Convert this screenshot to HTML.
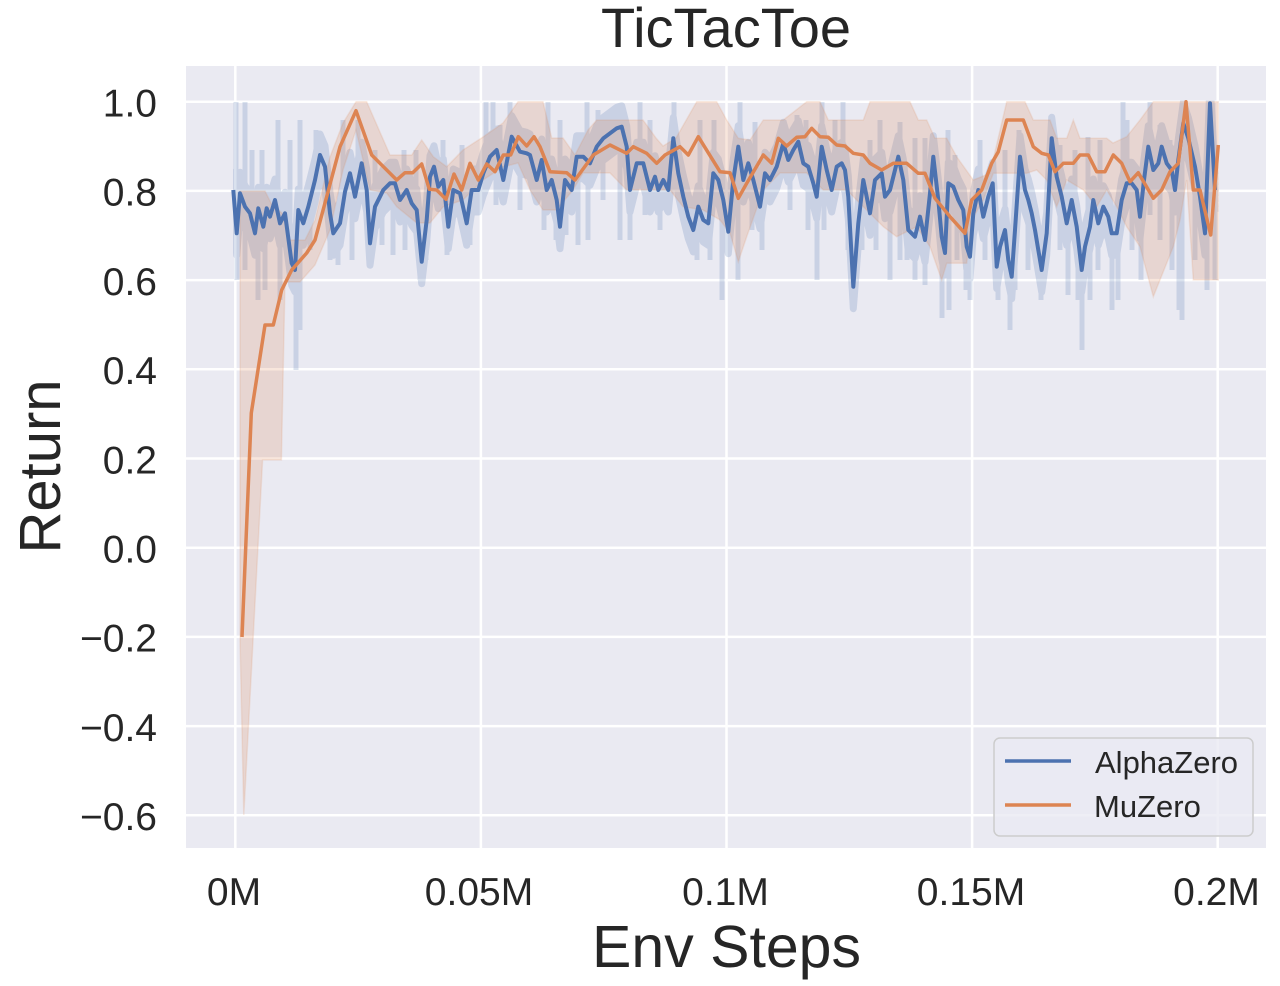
<!DOCTYPE html>
<html><head><meta charset="utf-8"><style>
html,body{margin:0;padding:0;background:#fff;}
svg{display:block;}
text{font-family:"Liberation Sans",Arial,sans-serif;fill:#262626;}
</style></head><body>
<svg width="1280" height="986" viewBox="0 0 1280 986" xmlns="http://www.w3.org/2000/svg">
<defs>
<clipPath id="bc"><rect x="233" y="100.5" width="985.5" height="740"/></clipPath>
<polyline id="bl" fill="none" stroke-linejoin="round" points="233.3,190 236.7,233.3 240,193.3 245,206.7 250,213.3 255,233.3 258.3,208.3 263.3,226.7 266.7,208.3 270,216.7 275,200 280,223.3 285,213.3 291.7,263.3 295,270 298.3,210 303.3,223.3 308.3,206.7 315,180 320,155 325,166.7 330,213.3 333.3,233.3 340,223.3 345,191.7 350,173.3 355,196.7 361.7,163.3 366.7,190 370,243.3 375,206.7 383.3,190 390,183.3 395,183.3 400,200 406.7,190 411.7,203.3 416.7,210 421.7,261.7 426.7,220 430,176.7 434,166.7 438.3,186.7 443.3,180 448.3,226.7 453.3,190 460,193.3 466.7,223.3 471.7,190 478.3,190 483.3,173.3 490,156.7 496.7,150 503.3,180 511.7,136.7 520,151.7 526.7,153.3 530,155 536.7,180 541.7,160 546.7,190 551.7,180 556.7,200 560,226.7 565,180 571.7,190 576.7,156.7 583.3,156.7 590,163.3 596.7,146.7 603.3,138.3 610,133.3 616.7,128.3 621.7,126.7 626.7,146.7 630,190 636.7,163.3 643.3,163.3 650,190 655,176.7 658.3,190 663.3,180 668.3,190 673.3,138.3 678.3,173.3 683.3,196.7 688.3,216.7 693.3,230 698.3,206.7 703.3,220 708.3,223.3 713.3,173.3 718.3,180 723.3,200 728.3,231.7 733.3,180 738.3,146.7 743.3,180 748.3,163.3 753.3,180 760,206.7 765,173.3 770,180 776.7,166.7 783.3,143.3 788.3,160 793.3,150 798.3,141.7 803.3,163.3 808.3,166.7 813.3,183.3 816.7,196.7 821.7,146.7 826.7,170 831.7,190 836.7,166.7 841.7,163.3 845,170 848.3,196.7 853.3,286.7 858.3,223.3 863.3,180 870,213.3 875,180 881.7,173.3 885,196.7 890,190 895,170 898.3,156.7 903.3,180 908.3,230 915,236.7 920,216.7 925,240 930,193.3 933.3,156.7 938.3,200 941.7,236.7 945,253 948.3,183.3 953.3,186.7 958.3,200 963.3,210 966.7,246.7 970,256.7 973.3,213.3 978.3,190 983.3,216.7 988.3,196.7 992.7,183.3 996.7,266.7 1000,246.7 1005,230 1008.3,260 1011.7,276.7 1015,230 1020,156.7 1025,190 1028.3,200 1031.7,213.3 1035,230 1038.3,250 1041.7,270 1046.7,233.3 1051.7,138.3 1056.7,176.7 1061.7,196.7 1066.7,223.3 1071.7,200 1076.7,226.7 1081.7,270 1085,246.7 1090,226.7 1093.3,200 1098.3,223.3 1103.3,206.7 1108.3,216.7 1111.7,233.3 1116.7,233.3 1121.7,200 1126.7,183.3 1131.7,183.3 1136.7,190 1140,216.7 1144,180 1148.3,146.7 1153.3,170 1158.3,163.3 1161.7,146.7 1166.7,163.3 1171.7,170 1175,190 1178.3,160 1183.3,123.3 1188.3,138.3 1195,166.7 1200,196.7 1205,233.3 1210,103.3 1215,190"/>
</defs>
<rect x="0" y="0" width="1280" height="986" fill="#fff"/>
<rect x="186" y="66" width="1080" height="782" fill="#eaeaf2"/>
<g stroke="#fff" stroke-width="2.5">
<line x1="235.3" y1="66" x2="235.3" y2="848"/>
<line x1="480.9" y1="66" x2="480.9" y2="848"/>
<line x1="726.5" y1="66" x2="726.5" y2="848"/>
<line x1="972.1" y1="66" x2="972.1" y2="848"/>
<line x1="1217.7" y1="66" x2="1217.7" y2="848"/>
<line x1="186" y1="101.7" x2="1266" y2="101.7"/>
<line x1="186" y1="190.9" x2="1266" y2="190.9"/>
<line x1="186" y1="280.1" x2="1266" y2="280.1"/>
<line x1="186" y1="369.3" x2="1266" y2="369.3"/>
<line x1="186" y1="458.5" x2="1266" y2="458.5"/>
<line x1="186" y1="547.7" x2="1266" y2="547.7"/>
<line x1="186" y1="636.9" x2="1266" y2="636.9"/>
<line x1="186" y1="726.1" x2="1266" y2="726.1"/>
<line x1="186" y1="815.3" x2="1266" y2="815.3"/>
</g>

<!-- AlphaZero band -->
<g opacity="0.2" stroke="#4c72b0" clip-path="url(#bc)">
<use href="#bl" stroke-width="7" transform="translate(0,-21)"/>
<use href="#bl" stroke-width="7" transform="translate(0,-15.5)"/>
<use href="#bl" stroke-width="7" transform="translate(0,-10)"/>
<use href="#bl" stroke-width="7" transform="translate(0,-4.5)"/>
<use href="#bl" stroke-width="7" transform="translate(0,1)"/>
<use href="#bl" stroke-width="7" transform="translate(0,6.5)"/>
<use href="#bl" stroke-width="7" transform="translate(0,12)"/>
<use href="#bl" stroke-width="7" transform="translate(0,17.5)"/>
<use href="#bl" stroke-width="7" transform="translate(0,22)"/>
<path fill="none" stroke-width="5" d="M236,200V102 M245,207V102 M252,213V150 M262,225V150 M278,215V120 M290,255V140 M300,210V120 M316,178V130 M343,200V120 M358,180V120 M375,205V150 M393,185V160 M404,195V150 M416,208V150 M443,180V140 M462,200V145 M486,165V102 M493,155V102 M500,165V125 M510,140V102 M518,150V125 M548,185V102 M560,220V120 M587,160V102 M598,145V110 M603,138V120 M640,165V102 M650,188V120 M674,140V102 M700,212V120 M714,175V120 M740,155V102 M755,185V122 M784,145V120 M797,145V115 M806,165V120 M822,148V102 M835,170V120 M843,165V102 M870,210V140 M880,175V120 M900,165V122 M915,235V138 M925,238V138 M948,185V130 M955,190V155 M980,200V140 M1005,230V150 M1019,160V130 M1052,140V120 M1060,190V145 M1075,220V150 M1088,230V137 M1100,215V140 M1123,195V102 M1127,185V120 M1150,158V102 M1160,155V125 M1170,168V140 M1183,125V102 M1210,110V102 M1215,190V150
M237,220V280 M245,207V270 M258,210V300 M265,215V290 M280,222V300 M296,265V370 M300,215V330 M310,200V250 M330,213V260 M338,225V265 M352,185V260 M370,240V262 M382,190V245 M393,183V255 M405,192V250 M420,255V280 M426,220V260 M447,220V255 M470,200V245 M496,150V205 M520,152V210 M544,175V230 M556,200V240 M566,185V235 M578,157V245 M588,160V240 M603,138V200 M620,128V240 M630,190V240 M645,175V215 M660,185V230 M688,217V240 M697,210V260 M710,200V260 M722,197V300 M738,150V280 M752,178V230 M762,195V250 M790,155V210 M808,167V230 M817,197V280 M824,158V230 M848,197V250 M853,287V295 M862,185V250 M876,180V250 M890,190V280 M900,165V260 M907,225V260 M915,237V280 M925,240V285 M942,240V318 M949,185V310 M957,195V260 M966,245V290 M970,257V300 M985,205V260 M998,258V300 M1010,270V330 M1015,230V290 M1028,200V270 M1041,270V300 M1052,140V200 M1060,192V250 M1068,220V295 M1078,235V300 M1082,268V350 M1090,227V300 M1098,222V270 M1112,233V310 M1118,230V300 M1132,185V250 M1141,210V280 M1150,155V215 M1160,160V240 M1172,175V270 M1179,160V310 M1182,130V320 M1195,167V260 M1207,200V290 M1215,190V280"/>
</g>

<!-- MuZero band -->
<polygon fill="#dd8452" fill-opacity="0.2" stroke="#dd8452" stroke-opacity="0.15" stroke-width="1.5" points="240,191 265,191 272,205 282,213 290,240 305,240 315,220 330,157 343,123 356,101.7 366.7,101.7 390,155 411.7,155 421.7,140 433.3,156.7 446.7,166.7 463,150 483,137 503,123 518,101.7 543,101.7 551.7,138 563,138 575,155 588,130 596.7,120 630,120 643,120 656,138 663,146 676,138 696.7,101.7 716.7,101.7 726.7,120 738.3,138.3 750,140 763.3,120 783.3,120 806.7,101.7 820,101.7 828.3,120 863.3,120 870,101.7 910,101.7 918.3,120 926.7,120 935,138.3 946.7,138.3 956.7,156.7 973.3,180 990,173.3 1006.7,101.7 1025,101.7 1033.3,120 1050,120 1056.7,138.3 1066.7,138.3 1073.3,120 1080,138.3 1106.7,138.3 1113,143 1126.7,136.7 1140,120 1153.3,101.7 1218.3,101.7 1218.3,280 1193.3,280 1186.7,180 1180,220 1173.3,246.7 1153.3,296.7 1140,246.7 1126.7,226.7 1116.7,206.7 1106.7,190 1096.7,206.7 1083.3,190 1066.7,180 1056.7,206.7 1046.7,180 1036.7,170 1026.7,173.3 993.3,173.3 983.3,200 971.7,220 966.7,263.3 946.7,263.3 941.7,280 930,246.7 916.7,226.7 896.7,236.7 883.3,226.7 863.3,206.7 846.7,190 823.3,190 806.7,173 780,173 763.3,190 746.7,236.7 738.3,261.7 730,233 720,220 703,210 683,206.7 670,190 626.7,190 610,173 583,173 573,190 556.7,210 543,210 530,190 518,163 503,167 483,180 463,200 443.3,206.7 430,223 416.7,223 396.7,206.7 386.7,193 370,190 356,130 343,170 330,230 315,265 300,282 285,282 281.4,460 262.6,460 243.8,815 240,640"/>

<!-- AlphaZero line -->
<use href="#bl" stroke="#4c72b0" stroke-width="4"/>

<!-- MuZero line -->
<polyline fill="none" stroke="#dd8452" stroke-width="3.5" stroke-linejoin="round" points="242,637 251.3,413 265,325 273.3,325 281.7,290 291.7,270 306.7,253 315,240 326.7,196.7 340,146.7 356,110.7 371.7,155 396.7,180 405,172.7 412.7,172.7 421.7,164 429.3,189.3 436.7,190 446,199.3 454,174 461.7,190 470,163.3 478.3,180 486.7,164 495,171.7 503.3,155 510.7,155 518.3,136.7 526.7,146 534,136.7 540,146.7 550,171.7 566.7,172.7 575,180 593.3,155 610,145 626.7,153.3 633.3,146.7 646.7,153.3 656.7,163.3 665,155 680,146.7 688.3,155 698.3,136.7 720,171.7 730,172.7 738.3,198.3 746.7,183.3 763.3,155 771.7,163.3 778.3,138.3 786.7,146 796.7,137.3 805,136.7 811.7,128.3 820,136.7 828.3,137.3 836.7,145 845,146 853.3,153.3 863.3,155 870,163.3 881.7,170 893.3,163.3 906.7,163.3 918.3,173.3 925,173.3 935,198.3 950,216.7 965,233.3 971.7,200 981.7,190 991.7,163.3 998.3,151.7 1006.7,120 1023.3,120 1033.3,146.7 1041.7,153.3 1048.3,155 1055,171.7 1063.3,163.3 1073.3,163.3 1080,155 1088.3,155 1096.7,171.7 1105,171.7 1113.3,155 1121.7,163.3 1130,181.7 1138.3,172.7 1153.3,198.3 1161.7,190 1170,171.7 1178.3,163.3 1186,101.7 1193.3,190 1200,190 1210.7,235 1218.3,145"/>

<!-- Legend -->
<rect x="994" y="738" width="259" height="98" rx="6" ry="6" fill="#eaeaf2" fill-opacity="0.8" stroke="#cccccc" stroke-width="1.5"/>
<line x1="1005" y1="761" x2="1071" y2="761" stroke="#4c72b0" stroke-width="3.5"/>
<line x1="1005" y1="805" x2="1071" y2="805" stroke="#dd8452" stroke-width="3.5"/>
<text x="1095" y="773" font-size="31">AlphaZero</text>
<text x="1094" y="817" font-size="31">MuZero</text>

<!-- Y tick labels -->
<g font-size="39" text-anchor="end">
<text x="157" y="116.5">1.0</text>
<text x="157" y="205.7">0.8</text>
<text x="157" y="294.9">0.6</text>
<text x="157" y="384.1">0.4</text>
<text x="157" y="473.3">0.2</text>
<text x="157" y="562.5">0.0</text>
<text x="157" y="651.7">−0.2</text>
<text x="157" y="740.9">−0.4</text>
<text x="157" y="830.1">−0.6</text>
</g>
<!-- X tick labels -->
<g font-size="39" text-anchor="middle">
<text x="234" y="905">0M</text>
<text x="479" y="905">0.05M</text>
<text x="725.5" y="905">0.1M</text>
<text x="971" y="905">0.15M</text>
<text x="1216.5" y="905">0.2M</text>
</g>
<text x="726" y="47" font-size="56" text-anchor="middle">TicTacToe</text>
<text x="726.5" y="967" font-size="59" text-anchor="middle">Env Steps</text>
<text transform="translate(60,466.5) rotate(-90)" font-size="58" text-anchor="middle">Return</text>
</svg>
</body></html>
